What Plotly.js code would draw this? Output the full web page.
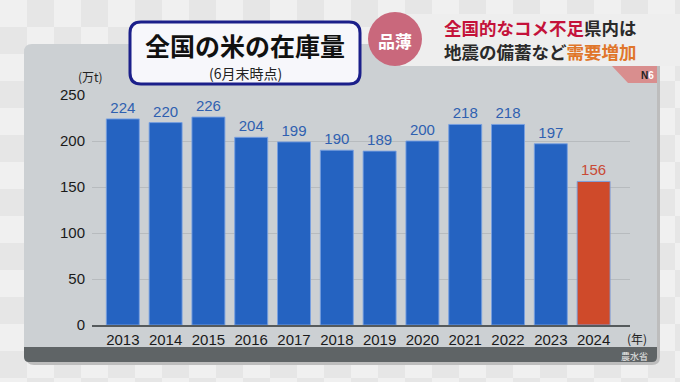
<!DOCTYPE html>
<html><head><meta charset="utf-8">
<script src="https://cdn.plot.ly/plotly-3.0.1.min.js"></script>
<style>html,body{margin:0;padding:0;background:#ececec;}#chart{width:680px;height:382px;}</style>
</head><body><div id="chart"></div>
<script>
const years = ['2013','2014','2015','2016','2017','2018','2019','2020','2021','2022','2023','2024'];
const stock = [224,220,226,204,199,190,189,200,218,218,197,156];
const yTicks = [0,50,100,150,200,250];
const titleText = '全国の米の在庫量';
const subtitleText = '(6月末時点)';
const unitY = '(万t)';
const unitX = '(年)';
const sourceText = '農水省';

const L=92, R=630, T=95, B=325;
const fx = p => (p-L)/(R-L);
const fy = p => (B-p)/(B-T);
function rrect(x0,y0,x1,y1,r){
  return `M${fx(x0+r)},${fy(y0)} L${fx(x1-r)},${fy(y0)} Q${fx(x1)},${fy(y0)} ${fx(x1)},${fy(y0+r)} `+
         `L${fx(x1)},${fy(y1-r)} Q${fx(x1)},${fy(y1)} ${fx(x1-r)},${fy(y1)} `+
         `L${fx(x0+r)},${fy(y1)} Q${fx(x0)},${fy(y1)} ${fx(x0)},${fy(y1-r)} `+
         `L${fx(x0)},${fy(y0+r)} Q${fx(x0)},${fy(y0)} ${fx(x0+r)},${fy(y0)} Z`;
}
const shapes = [];
const S = 27;
for (let i=0;i*S<680;i++){
  for (let j=0;j*S<382;j++){
    if ((i+j)%2===0){
      shapes.push({type:'rect',xref:'paper',yref:'paper',layer:'below',
        x0:fx(i*S),x1:fx(i*S+S),y0:fy(j*S),y1:fy(j*S+S),
        fillcolor:'#f0f0f0',line:{width:0}});
    }
  }
}
shapes.push({type:'path',xref:'paper',yref:'paper',layer:'below',path:rrect(26,47,660,365,8),fillcolor:'#bdbdbd',line:{width:0}});
shapes.push({type:'path',xref:'paper',yref:'paper',layer:'below',path:rrect(24,44,657,362,8),fillcolor:'#ccd0d3',line:{width:0}});
shapes.push({type:'path',xref:'paper',yref:'paper',layer:'below',path:rrect(24,347,657,362,5),fillcolor:'#5f6466',line:{width:0}});
shapes.push({type:'rect',xref:'paper',yref:'paper',layer:'below',x0:fx(24),x1:fx(657),y0:fy(347),y1:fy(352),fillcolor:'#5f6466',line:{width:0}});
shapes.push({type:'rect',xref:'paper',yref:'paper',layer:'below',x0:fx(400),x1:fx(680),y0:fy(14),y1:fy(66),fillcolor:'#eeeeee',line:{width:0}});
shapes.push({type:'path',xref:'paper',yref:'paper',layer:'below',
  path:`M${fx(612)},${fy(66)} L${fx(657)},${fy(66)} L${fx(657)},${fy(83)} L${fx(628)},${fy(83)} Z`,
  fillcolor:'#d98e8e',line:{width:0}});
shapes.push({type:'circle',xref:'paper',yref:'paper',layer:'below',x0:fx(368),x1:fx(422),y0:fy(12),y1:fy(66),fillcolor:'#c9687c',line:{width:0}});
shapes.push({type:'path',xref:'paper',yref:'paper',layer:'below',path:rrect(130,22,360,84,11),fillcolor:'#f7f7fb',line:{color:'#1b1f8a',width:3}});

function ann(x,y,text,size,color,xa,family){
  return {xref:'paper',yref:'paper',x:fx(x),y:fy(y),xanchor:xa||'center',yanchor:'middle',borderpad:0,
    text:text,showarrow:false,font:{family:family||'Noto Sans CJK JP',size:size,color:color}};
}
const annotations = [
  ann(245,45,'<b>'+titleText+'</b>',25,'#111'),
  ann(245,73,subtitleText,14,'#222'),
  ann(395,40,'<b>品薄</b>',17,'#ffffff'),
  ann(443,28,'<b><span style="color:#c4123a">全国的なコメ不足</span>県内は</b>',17.5,'#2a2a2a','left'),
  ann(443,52,'<b>地震の備蓄など<span style="color:#e0762a">需要増加</span></b>',17.5,'#2a2a2a','left'),
  ann(647,75,'<b>N<span style="color:#ffffff">6</span></b>',10,'#222','center','Liberation Sans'),
  ann(90,76,unitY,12,'#222'),
  ann(637,338,unitX,12,'#222'),
  ann(634,356,sourceText,9,'#e8e8e8')
];

const barColors = stock.map((v,i)=> i===stock.length-1 ? '#cf4a2a' : '#2563c1');
const textColors = stock.map((v,i)=> i===stock.length-1 ? '#c94a35' : '#2f60b0');

const trace = {
  type:'bar', x:years, y:stock,
  marker:{color:barColors, line:{color:'rgba(120,160,225,0.9)',width:1}},
  texttemplate:'%{y}', textposition:'outside', cliponaxis:false,
  textfont:{family:'Liberation Sans',size:15,color:textColors},
  hoverinfo:'none'
};

const layout = {
  width:680, height:382, autosize:false,
  margin:{l:L,r:680-R,t:T,b:382-B,pad:0},
  paper_bgcolor:'#e6e6e6', plot_bgcolor:'rgba(0,0,0,0)',
  bargap:0.23,
  showlegend:false,
  xaxis:{type:'category',range:[-0.72,11.85],showgrid:false,showline:true,linecolor:'#555a5c',linewidth:2,
    ticks:'',tickfont:{family:'Liberation Sans',size:15,color:'#1a1a1a'},fixedrange:true},
  yaxis:{range:[0,250],tickvals:yTicks,showgrid:true,gridcolor:'#b7bbbe',gridwidth:1,zeroline:false,showline:false,
    ticks:'',ticklabelstandoff:6,tickfont:{family:'Liberation Sans',size:15,color:'#1a1a1a'},fixedrange:true},
  shapes:shapes, annotations:annotations
};
Plotly.newPlot('chart',[trace],layout,{displayModeBar:false,staticPlot:true});
</script></body></html>
